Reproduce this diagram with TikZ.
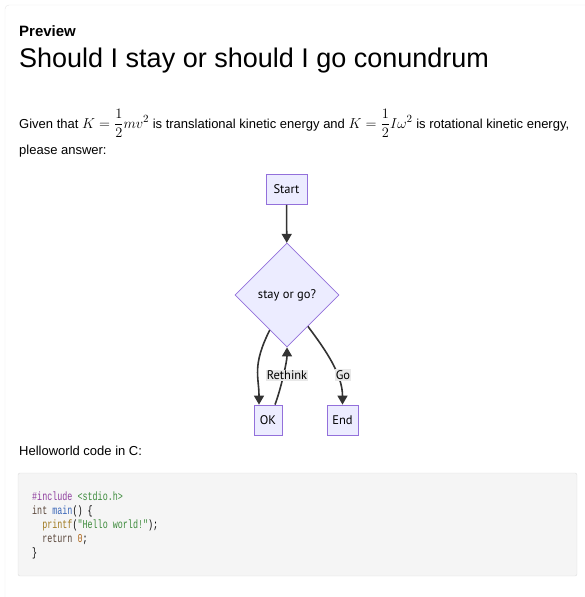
\documentclass[tikz,border=0pt]{standalone}
\usepackage{amsmath}
\usepackage{fontspec}
\setmainfont{Liberation Sans}
\newfontfamily\chartfont{PT Sans}
\newfontfamily\codefont[FakeStretch=0.7]{Liberation Mono}
\usepackage{xcolor}
\usepackage{tikz}
\usetikzlibrary{shapes.geometric,arrows.meta,positioning,calc}

\definecolor{boxfill}{HTML}{ECECFF}
\definecolor{boxline}{HTML}{9370DB}
\definecolor{edgeline}{HTML}{333333}
\definecolor{lblfill}{HTML}{E8E8E8}
\definecolor{codefill}{HTML}{F5F5F5}
\definecolor{codeline}{HTML}{DDDDDD}
\definecolor{cardline}{HTML}{E4E4E4}
\definecolor{kwpurple}{HTML}{8E3E9E}
\definecolor{strgreen}{HTML}{3C8A3B}
\definecolor{typebrown}{HTML}{5A463A}
\definecolor{fnblue}{HTML}{3A66B8}
\definecolor{fnochre}{HTML}{A07A20}
\definecolor{numorange}{HTML}{B06A20}

\newcommand{\bigmath}[1]{{\fontsize{15.5}{18}\selectfont$#1$}}

\begin{document}
\begin{tikzpicture}[x=1pt, y=-1pt,
		box/.style={draw=boxline, fill=boxfill, line width=0.8pt, minimum height=30pt, inner sep=0pt, font=\chartfont\fontsize{12.5}{14}\selectfont},
		decision/.style={draw=boxline, fill=boxfill, line width=0.8pt, diamond, aspect=1, minimum size=104pt, inner sep=0pt, font=\chartfont\fontsize{12.5}{14}\selectfont},
		edge/.style={draw=edgeline, line width=1.6pt, -{Triangle[width=10pt,length=9pt]}},
		lbl/.style={fill=lblfill, inner sep=1pt, font=\chartfont\fontsize{12.5}{14}\selectfont},
		txt/.style={anchor=base west, inner sep=0pt, font=\fontsize{13}{16}\selectfont}]
		\useasboundingbox (0,0) rectangle (585,597);
		\draw[cardline, rounded corners=4pt] (5,5) rectangle (620,640);

		% heading and question
		\node[txt, font=\bfseries\fontsize{15}{18}\selectfont] (preview) at (19,36) {Preview};
		\node[txt, font=\fontsize{27}{30}\selectfont] (title) at (19,67) {Should I stay or should I go conundrum};
		\node[txt] (given) at (19,128) {Given that \bigmath{K=\dfrac{1}{2}mv^2} is translational kinetic energy and \bigmath{K=\dfrac{1}{2}I\omega^2} is rotational kinetic energy,};
		\node[txt] (please) at (19,154) {please answer:};

		% flowchart
		\node[box, minimum width=41pt] (start) at (286.5,189.5) {Start};
		\node[decision] (decide) at (287,295) {stay or go?};
		\node[box, minimum width=28pt] (ok) at (268,420) {OK};
		\node[box, minimum width=31pt] (stop) at (342.5,420) {End};

		\draw[edge] (start) -- (decide);
		\draw[edge] ($(decide.west)!0.67!(decide.south)$) .. controls +(-18,36) and +(0,-28) .. ([xshift=-9pt]ok.north);
		\draw[edge] ([xshift=7pt]ok.north) .. controls +(6,-16) and +(0,14) .. (decide.south);
		\draw[edge] ($(decide.east)!0.6!(decide.south)$) .. controls +(18,24) and +(0,-30) .. (stop.north);
		\node[lbl] (rethink) at (287,375) {Rethink};
		\node[lbl] (go) at (343,375) {Go};

		% code sample
		\node[txt] (hello) at (19,455) {Helloworld code in C:};
		\draw[codeline, fill=codefill, rounded corners=2pt] (18,473) rectangle (577,576);
		\node[anchor=north west, align=left, inner sep=0pt, font=\codefont\fontsize{12}{14}\selectfont] (code) at (32,492) {%
			\textcolor{kwpurple}{\#include} \textcolor{strgreen}{<stdio.h>}\\
			\textcolor{typebrown}{int} \textcolor{fnblue}{main}() \{\\
			\hphantom{xx}\textcolor{fnochre}{printf}(\textcolor{strgreen}{"Hello world!"});\\
			\hphantom{xx}\textcolor{typebrown}{return} \textcolor{numorange}{0};\\
			\}};
	\end{tikzpicture}
\end{document}
